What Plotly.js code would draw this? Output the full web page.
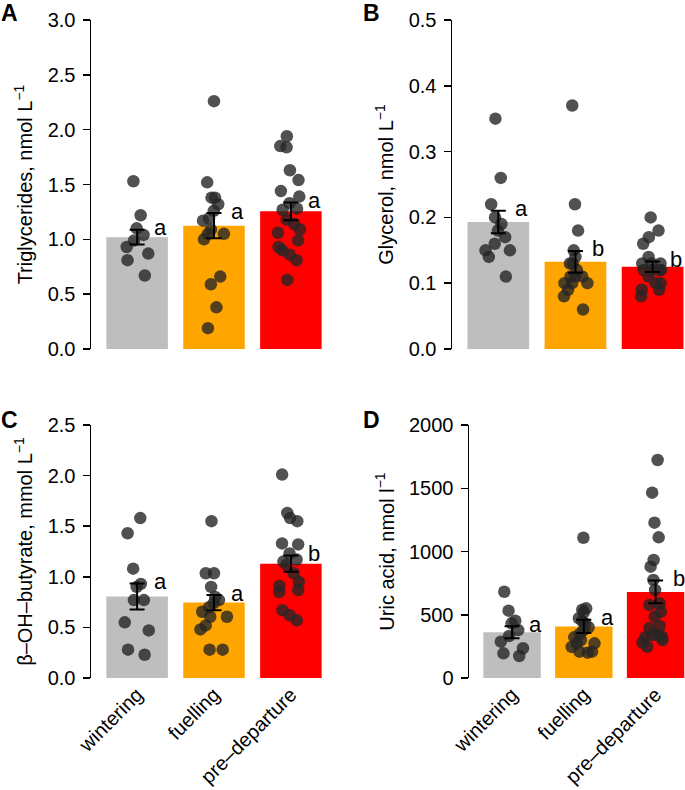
<!DOCTYPE html>
<html>
<head>
<meta charset="utf-8">
<script src="https://cdn.plot.ly/plotly-3.0.1.min.js"></script>
<style>html,body{margin:0;padding:0;background:#fff;}#chart{width:685px;height:790px;}</style>
</head>
<body>
<div id="chart"></div>
<script>
// ---------- data ----------
const groups = ['wintering', 'fuelling', 'pre–departure'];
const barColors = ['#BEBEBE', '#FFA500', '#FF0000'];

// Panel A: Triglycerides
const trigWintering = [1.53, 1.22, 1.10, 1.04, 0.99, 0.93, 0.87, 0.81, 0.67];
const trigFuelling = [2.26, 1.52, 1.38, 1.38, 1.32, 1.26, 1.19, 1.17, 1.09, 1.05, 1.05, 1.00, 0.66, 0.59, 0.38, 0.19];
const trigPreDeparture = [1.94, 1.85, 1.84, 1.63, 1.54, 1.44, 1.39, 1.33, 1.27, 1.28, 1.18, 1.14, 1.09, 1.06, 0.99, 0.93, 0.90, 0.86, 0.81, 0.63];
const trigMean = [1.02, 1.125, 1.255];
const trigSE = [0.068, 0.115, 0.08];
const trigLetters = ['a', 'a', 'a'];

// Panel B: Glycerol
const glyWintering = [0.35, 0.26, 0.22, 0.20, 0.19, 0.18, 0.17, 0.16, 0.15, 0.15, 0.14, 0.11];
const glyFuelling = [0.37, 0.22, 0.18, 0.15, 0.14, 0.13, 0.13, 0.12, 0.11, 0.11, 0.11, 0.10, 0.10, 0.10, 0.09, 0.08, 0.06];
const glyPreDeparture = [0.20, 0.18, 0.17, 0.16, 0.14, 0.13, 0.13, 0.13, 0.12, 0.12, 0.12, 0.12, 0.11, 0.10, 0.10, 0.09, 0.09, 0.08];
const glyMean = [0.193, 0.1325, 0.125];
const glySE = [0.017, 0.0165, 0.008];
const glyLetters = ['a', 'b', 'b'];

// Panel C: beta-OH-butyrate
const bohWintering = [1.58, 1.43, 1.08, 0.93, 0.90, 0.77, 0.77, 0.55, 0.47, 0.28, 0.23];
const bohFuelling = [1.55, 1.035, 1.035, 0.90, 0.80, 0.77, 0.74, 0.70, 0.655, 0.605, 0.605, 0.52, 0.48, 0.28, 0.28];
const bohPreDeparture = [2.01, 1.63, 1.58, 1.55, 1.33, 1.32, 1.23, 1.17, 1.15, 1.12, 1.035, 0.95, 0.91, 0.87, 0.85, 0.67, 0.62, 0.57];
const bohMean = [0.805, 0.745, 1.13];
const bohSE = [0.128, 0.075, 0.08];
const bohLetters = ['a', 'a', 'b'];

// Panel D: Uric acid
const uaWintering = [682, 532, 453, 432, 379, 332, 287, 235, 195, 174];
const uaFuelling = [1109, 551, 540, 520, 472, 450, 432, 401, 379, 350, 322, 300, 274, 274, 246, 208, 208, 200];
const uaPreDeparture = [1723, 1465, 1228, 1112, 933, 880, 775, 696, 590, 577, 524, 485, 411, 393, 340, 340, 326, 320, 300, 280, 247];
const uaMean = [362, 408, 680];
const uaSE = [48, 53, 90];
const uaLetters = ['a', 'a', 'b'];

const yTitles = [
  'Triglycerides, nmol L<sup>−1</sup>',
  'Glycerol, nmol L<sup>−1</sup>',
  'β–OH–butyrate, mmol L<sup>−1</sup>',
  'Uric acid, nmol l<sup>−1</sup>'
];
const panelLabels = ['A', 'B', 'C', 'D'];

// ---------- build ----------
const FONT = 'Liberation Sans, Arial, Helvetica, sans-serif';
const FS = 20;
const panels = [
  {pts: [trigWintering, trigFuelling, trigPreDeparture], mean: trigMean, se: trigSE, letters: trigLetters},
  {pts: [glyWintering, glyFuelling, glyPreDeparture], mean: glyMean, se: glySE, letters: glyLetters},
  {pts: [bohWintering, bohFuelling, bohPreDeparture], mean: bohMean, se: bohSE, letters: bohLetters},
  {pts: [uaWintering, uaFuelling, uaPreDeparture], mean: uaMean, se: uaSE, letters: uaLetters}
];

const W = 685, H = 790;
const px = v => v / W;
const py = v => 1 - v / H;
// pixel geometry of panels
const geo = [
  {x0: 91, x1: 337, xr: [-0.6, 2.6], yTop: 20, yBot: 349, yr: [0, 3], dt: 0.5, fmt: '.1f', lab: [-1, 13]},
  {x0: 452, x1: 685, xr: [-0.6, 2.42], yTop: 20, yBot: 349, yr: [0, 0.5], dt: 0.1, fmt: '.1f', lab: [361, 13]},
  {x0: 91, x1: 337, xr: [-0.6, 2.6], yTop: 425, yBot: 678, yr: [0, 2.5], dt: 0.5, fmt: '.1f', lab: [-1, 420]},
  {x0: 469, x1: 685, xr: [-0.6, 2.41], yTop: 425, yBot: 678, yr: [0, 2000], dt: 500, fmt: 'd', lab: [361, 420]}
];

const traces = [];
const annotations = [];
const layout = {
  width: W, height: H,
  margin: {l: 0, r: 0, t: 0, b: 0},
  paper_bgcolor: '#fff', plot_bgcolor: '#fff',
  showlegend: false,
  font: {family: FONT, color: '#000', size: FS},
  annotations: annotations
};

panels.forEach((p, i) => {
  const n = i === 0 ? '' : String(i + 1);
  const xa = 'x' + n, ya = 'y' + n;
  const g = geo[i];
  // bars
  traces.push({
    type: 'bar', x: groups, y: p.mean, xaxis: xa, yaxis: ya,
    width: 0.8, marker: {color: barColors, line: {width: 0}}, hoverinfo: 'skip'
  });
  // points (jittered by plotly box points)
  const xs = [], ys = [];
  p.pts.forEach((arr, k) => arr.forEach(v => { xs.push(groups[k]); ys.push(v); }));
  traces.push({
    type: 'box', x: xs, y: ys, xaxis: xa, yaxis: ya,
    boxpoints: 'all', jitter: 0.8, pointpos: 0,
    fillcolor: 'rgba(0,0,0,0)', line: {color: 'rgba(0,0,0,0)', width: 0},
    whiskerwidth: 0,
    marker: {color: 'rgba(38,38,38,0.8)', size: 12.5, line: {width: 0}},
    hoverinfo: 'skip'
  });
  // error bars on top
  traces.push({
    type: 'scatter', mode: 'markers', x: groups, y: p.mean, xaxis: xa, yaxis: ya,
    marker: {opacity: 0, size: 1},
    error_y: {type: 'data', array: p.se, visible: true, color: '#000', thickness: 2, width: 7.5},
    hoverinfo: 'skip'
  });
  // significance letters
  p.letters.forEach((L, k) => {
    annotations.push({
      xref: xa, yref: ya, x: groups[k], y: p.mean[k] + p.se[k],
      text: L, showarrow: false, xanchor: 'left', yanchor: 'middle',
      xshift: 15, yshift: 2, font: {family: FONT, size: 22, color: '#000'}
    });
  });
  // panel label
  annotations.push({
    xref: 'paper', yref: 'paper', x: px(g.lab[0]), y: py(g.lab[1]),
    text: '<b>' + panelLabels[i] + '</b>', showarrow: false,
    xanchor: 'left', yanchor: 'middle', font: {family: FONT, size: 23, color: '#000'}
  });

  layout['xaxis' + n] = {
    domain: [px(g.x0), px(g.x1)], anchor: ya, type: 'category',
    categoryorder: 'array', categoryarray: groups,
    range: g.xr, showline: false, showgrid: false, zeroline: false,
    ticks: '', showticklabels: i >= 2, tickangle: -45,
    tickfont: {family: FONT, size: FS, color: '#000'}, fixedrange: true
  };
  layout['yaxis' + n] = {
    domain: [py(g.yBot), py(g.yTop)], anchor: xa,
    range: g.yr, tick0: 0, dtick: g.dt, tickformat: g.fmt,
    ticks: 'outside', ticklen: 7, tickwidth: 1.5, tickcolor: '#000',
    ticklabelstandoff: 3,
    showline: true, linewidth: 1.5, linecolor: '#000',
    showgrid: false, zeroline: false,
    tickfont: {family: FONT, size: FS, color: '#000'},
    title: {text: yTitles[i], font: {family: FONT, size: FS, color: '#000'}, standoff: 9},
    fixedrange: true
  };
});

Plotly.newPlot('chart', traces, layout, {displayModeBar: false, staticPlot: true});
</script>
</body>
</html>
